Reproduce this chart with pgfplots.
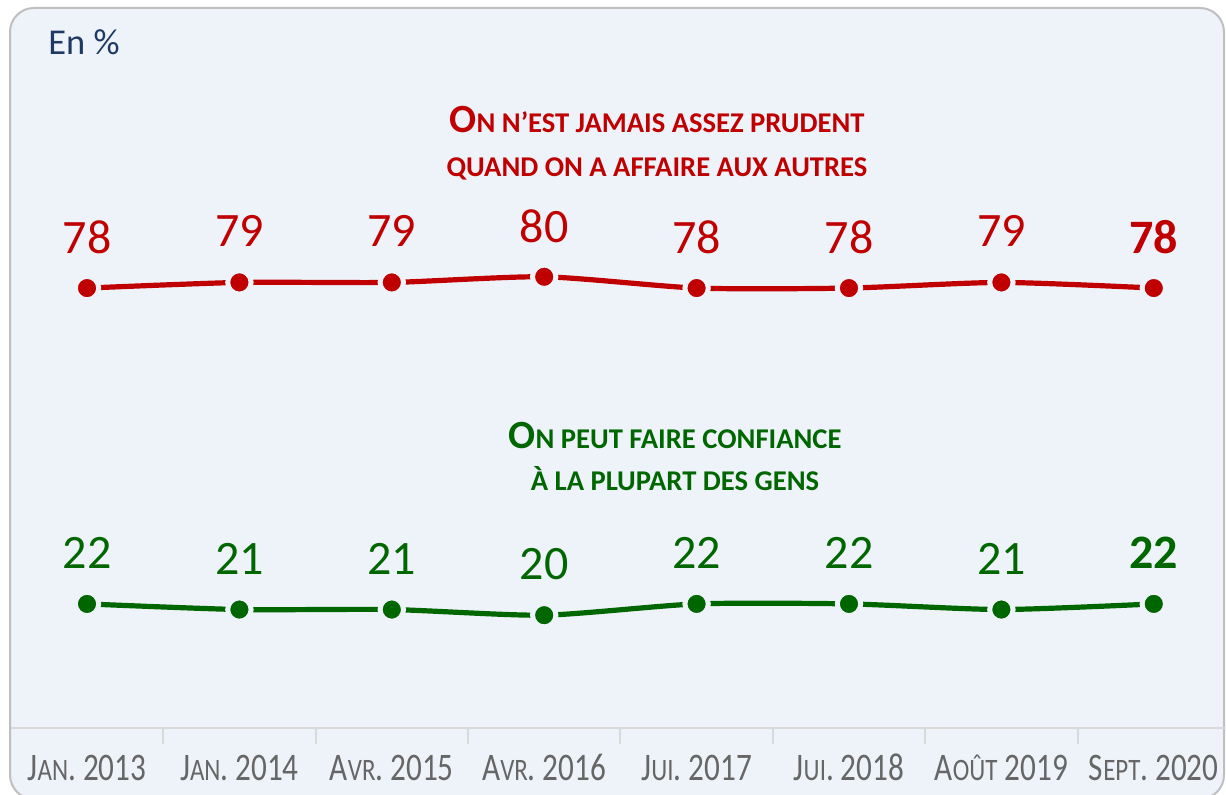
\documentclass[border=0pt]{standalone}
\usepackage{pgfplots}
\pgfplotsset{compat=1.18}
\usepackage{fontspec}
\setmainfont{Carlito}
\definecolor{bgc}{HTML}{EEF3FA}
\definecolor{framec}{HTML}{BFBFBF}
\definecolor{redc}{HTML}{C00000}
\definecolor{greenc}{HTML}{006600}
\definecolor{navy}{HTML}{1F3864}
\definecolor{labc}{HTML}{666666}
\definecolor{axc}{HTML}{D9D9D9}
\newcommand{\xs}[1]{{\fontsize{15.6}{16}\selectfont #1}}
\newcommand{\tbig}[1]{{\fontsize{20}{20}\selectfont #1}}
\newcommand{\tsm}[1]{{\fontsize{14.3}{15}\selectfont #1}}
\begin{document}
\begin{tikzpicture}
\useasboundingbox (0,0) rectangle (613pt,397.5pt);
\fill[white] (0,0) rectangle (613pt,397.5pt);
\draw[framec, line width=1pt, fill=bgc, rounded corners=12pt] (5pt,-2pt) rectangle (612pt,393.5pt);
\node[navy, anchor=base west, font=\fontsize{18.2}{19}\selectfont, inner sep=0pt] at (24pt,370pt) {En \%};
\node[redc, anchor=base, inner sep=0pt, font=\bfseries] at (328.5pt,331pt) {\tbig{O}\tsm{N N’EST JAMAIS ASSEZ PRUDENT}};
\node[redc, anchor=base, inner sep=0pt, font=\bfseries] at (328.5pt,309pt) {\tsm{QUAND ON A AFFAIRE AUX AUTRES}};
\node[greenc, anchor=base, inner sep=0pt, font=\bfseries] at (337.5pt,173pt) {\tbig{O}\tsm{N PEUT FAIRE CONFIANCE}};
\node[greenc, anchor=base, inner sep=0pt, font=\bfseries] at (337.5pt,152pt) {\tsm{À LA PLUPART DES GENS}};
\begin{axis}[
  at={(5.4pt,33.5pt)}, anchor=south west,
  x=76.2pt, y=2.82pt,
  xmin=-0.5, xmax=7.5, ymin=0, ymax=127,
  clip=false,
  /pgf/number format/assume math mode=true,
  axis y line=none,
  axis x line=bottom,
  x axis line style={draw=axc, line width=1pt, -},
  xtick={0,...,7},
  xticklabels={J\xs{AN}. 2013, J\xs{AN}. 2014, A\xs{VR}. 2015, A\xs{VR}. 2016, J\xs{UI}. 2017, J\xs{UI}. 2018, A\xs{OÛT} 2019, S\xs{EPT}. 2020},
  major tick length=0pt,
  xticklabel style={labc, font=\fontsize{19.5}{20}\selectfont, anchor=base, yshift=-26.5pt, xscale=0.8, inner sep=0pt},
  extra x ticks={0.5,1.5,...,6.5},
  extra x tick labels={},
  extra x tick style={major tick length=8pt, tick align=outside, tick style={draw=axc, line width=1pt}},
  every node near coord/.append style={anchor=center, yshift=25.5pt, font=\fontsize{24}{24}\selectfont, inner sep=0pt},
]
\addplot[redc, line width=2.6pt, smooth, tension=0.4, mark=*, mark size=5.85pt, mark options={fill=redc, draw=bgc, line width=2.5pt}]
  coordinates {(0,78) (1,79) (2,79) (3,80) (4,78) (5,78) (6,79) (7,78)};
\addplot[draw=none, mark=none, nodes near coords, every node near coord/.append style={text=redc}]
  coordinates {(0,78) (1,79) (2,79) (3,80) (4,78) (5,78) (6,79)};
\addplot[draw=none, mark=none, nodes near coords, every node near coord/.append style={text=redc, font=\fontsize{24}{24}\selectfont\bfseries}]
  coordinates {(7,78)};
\addplot[greenc, line width=2.6pt, smooth, tension=0.4, mark=*, mark size=5.85pt, mark options={fill=greenc, draw=bgc, line width=2.5pt}]
  coordinates {(0,22) (1,21) (2,21) (3,20) (4,22) (5,22) (6,21) (7,22)};
\addplot[draw=none, mark=none, nodes near coords, every node near coord/.append style={text=greenc}]
  coordinates {(0,22) (1,21) (2,21) (3,20) (4,22) (5,22) (6,21)};
\addplot[draw=none, mark=none, nodes near coords, every node near coord/.append style={text=greenc, font=\fontsize{24}{24}\selectfont\bfseries}]
  coordinates {(7,22)};
\end{axis}
\end{tikzpicture}
\end{document}
